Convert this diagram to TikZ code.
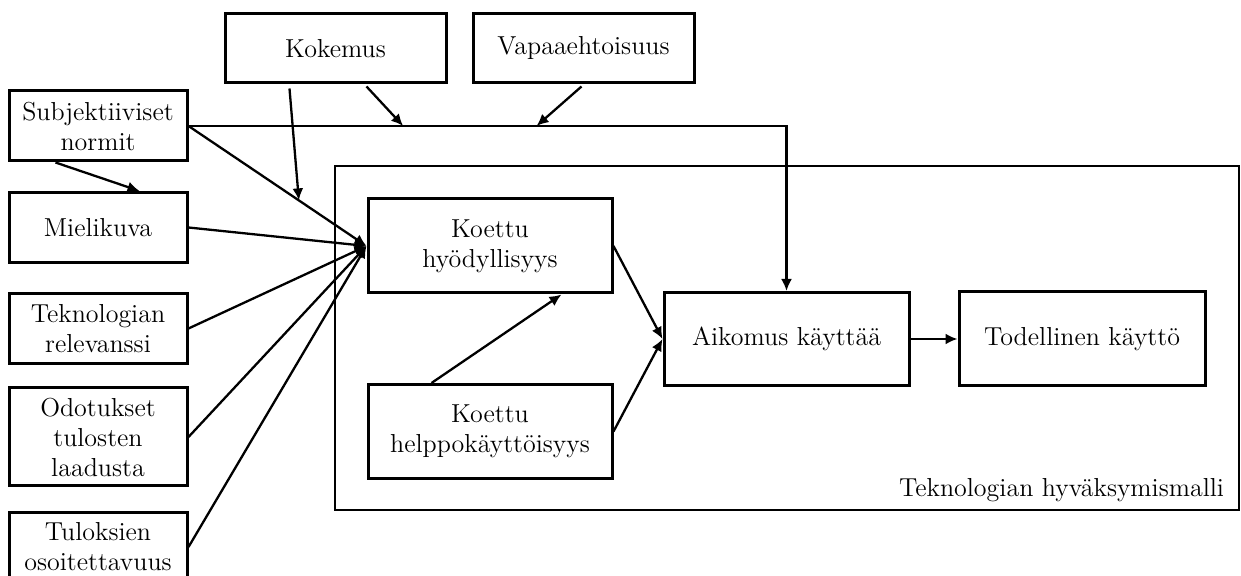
\documentclass[tikz,border=0pt]{standalone}
\usepackage{tikz}
\usetikzlibrary{calc,positioning,arrows.meta}
\tikzset{>={Latex[length=6pt,width=5.5pt]}}

\begin{document}
\begin{tikzpicture}[x=0.5pt,y=-0.5pt,
  box/.style={draw, line width=1.5pt, align=center, inner sep=2pt, font=\fontsize{13}{15}\selectfont},
  link/.style={line width=1.15pt, ->}]
\useasboundingbox (0,0) rectangle (1241,576);
\node[draw, line width=1.35pt, minimum width=452pt, minimum height=172pt] (tam) at (787,338) {};
\node[anchor=base east, inner sep=0pt, font=\fontsize{13}{15}\selectfont] (tamlabel) at ([shift={(-8pt,7.5pt)}]tam.south east) {Teknologian hyväksymismalli};
%%%%%%%%%%%%
\node[box, minimum width=110.5pt, minimum height=34.5pt] (kokemus) at (335.5,48.5) {Kokemus};
\node[box, minimum width=110.5pt, minimum height=34.5pt] (vapaa) at (583.5,48.5) {Vapaaehtoisuus};
\node[box, minimum width=89pt, minimum height=35pt] (subj) at (98,126) {Subjektiiviset\\normit};
\node[box, minimum width=89pt, minimum height=35pt] (mieli) at (98,227.5) {Mielikuva};
\node[box, minimum width=89pt, minimum height=35pt] (relev) at (98,328.5) {Teknologian\\relevanssi};
\node[box, minimum width=89pt, minimum height=49pt] (odot) at (98,437) {Odotukset\\tulosten\\laadusta};
\node[box, minimum width=89pt, minimum height=35pt] (tulos) at (98,547) {Tuloksien\\osoitettavuus};
%%%%%%%%%%%%
\node[box, minimum width=122pt, minimum height=47pt] (hyod) at (490,246) {Koettu\\hyödyllisyys};
\node[box, minimum width=122pt, minimum height=47pt] (helppo) at (490,431.5) {Koettu\\helppokäyttöisyys};
\node[box, minimum width=122.5pt, minimum height=46.5pt] (aikomus) at (786.5,339) {Aikomus käyttää};
\node[box, minimum width=123pt, minimum height=47pt] (todell) at (1082,339) {Todellinen käyttö};
%%%%%%%%%%%%
\coordinate (corner) at (aikomus.north |- subj.east);
\coordinate (kok1) at ($(subj.east)!0.62!(hyod.west)$);
\coordinate (kok2) at ($(subj.east)!0.359!(corner)$);
\coordinate (vap1) at ($(subj.east)!0.582!(corner)$);
\draw[link] (subj.east) -| (aikomus.north);
\draw[link] (subj.east) -- (hyod.west);
\draw[link] (mieli.east) -- (hyod.west);
\draw[link] (relev.east) -- (hyod.west);
\draw[link] (odot.east) -- (hyod.west);
\draw[link] (tulos.east) -- (hyod.west);
\draw[link] ([xshift=24pt]subj.south west) -- ([xshift=-24.5pt]mieli.north east);
\draw[link] ([shift={(33pt,-2pt)}]kokemus.south west) -- (kok1);
\draw[link] ([shift={(71.5pt,-1pt)}]kokemus.south west) -- (kok2);
\draw[link] ([shift={(55pt,-1pt)}]vapaa.south west) -- (vap1);
%%%%%%%%%%%%
\draw[link] ([xshift=32.5pt]helppo.north west) -- ([xshift=-26pt]hyod.south east);
\draw[link] (hyod.east) -- (aikomus.west);
\draw[link] (helppo.east) -- (aikomus.west);
\draw[link] (aikomus.east) -- (todell.west);
\end{tikzpicture}
\end{document}
